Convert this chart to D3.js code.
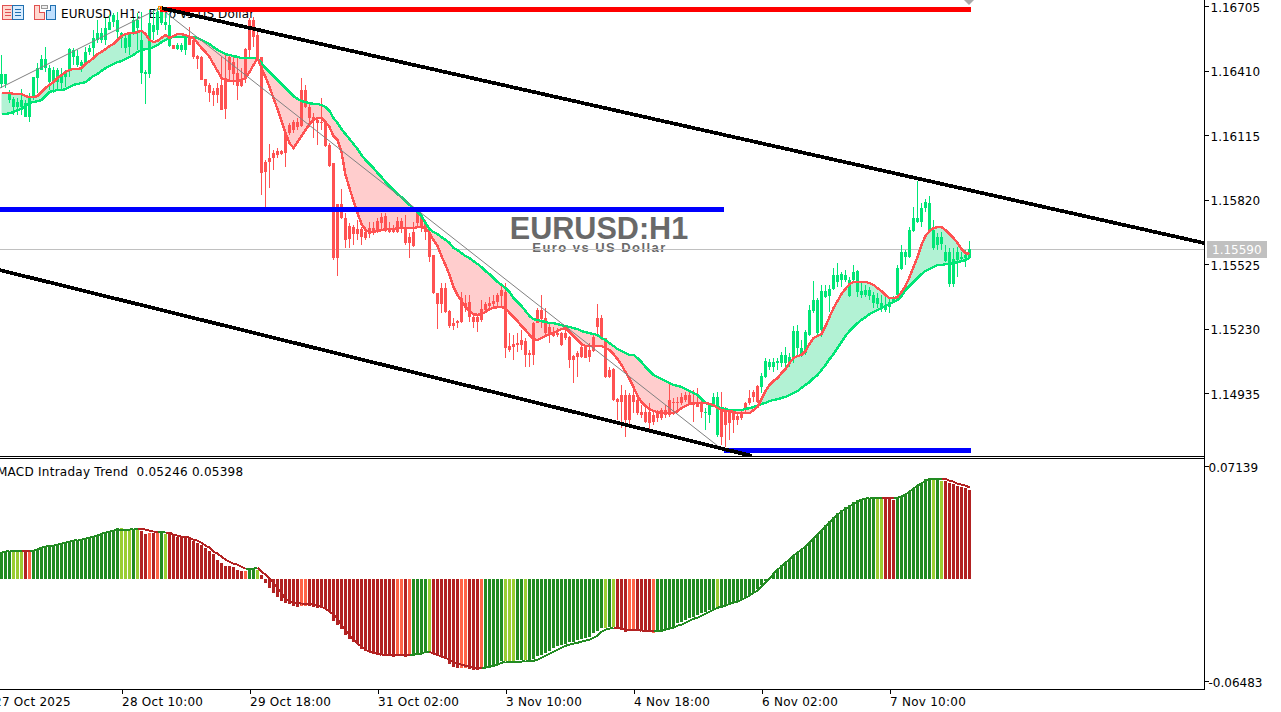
<!DOCTYPE html>
<html><head><meta charset="utf-8">
<script src="https://cdn.jsdelivr.net/npm/d3@7/dist/d3.min.js"></script>
<style>
html,body{margin:0;padding:0;background:#fff;overflow:hidden}
text{font-family:"DejaVu Sans",sans-serif;font-size:12px;fill:#000;white-space:pre}
</style></head><body><svg id="c" width="1281" height="712"></svg>
<script>
// Prices are in points: 16705 means 1.16705
const high=[16481,16394,16321,16289,16284,16325,16275,16307,16380,16444,
16481,16517,16435,16426,16421,16421,16412,16513,16513,16504,
16458,16517,16526,16595,16641,16604,16650,16664,16673,16677,
16586,16581,16586,16650,16673,16677,16412,16687,16687,16696,
16696,16673,16673,16526,16536,16536,16572,16609,16559,16481,
16476,16371,16353,16330,16353,16472,16481,16481,16481,16467,
16421,16513,16650,16654,16604,16472,16001,16074,16046,16056,
16046,16129,16170,16184,16193,16376,16344,16261,16216,16197,
16284,16184,16078,15987,15799,15868,15758,15712,15703,15726,
15694,15694,15717,15717,15735,15758,15758,15717,15703,15740,
15735,15749,15667,15717,15763,15758,15726,15680,15566,15392,
15438,15438,15314,15278,15269,15397,15383,15383,15301,15292,
15360,15351,15374,15383,15392,15429,15438,15209,15200,15209,
15223,15186,15131,15260,15324,15383,15324,15255,15237,15232,
15214,15232,15196,15109,15127,15168,15154,15163,15200,15342,
15292,15186,15054,15049,14912,14972,14949,14935,14949,14917,
14880,14880,14889,14857,14857,14866,14880,14981,14912,14917,
14935,14940,14940,14949,14958,14903,14866,14889,14935,14940,
14940,14871,14862,14848,14843,14857,14894,14949,14949,14972,
15026,15095,15091,15095,15095,15122,15145,15118,15241,15246,
15177,15223,15337,15447,15369,15429,15429,15429,15507,15529,
15488,15497,15465,15520,15497,15438,15429,15420,15397,15392,
15383,15374,15369,15379,15520,15612,15589,15694,15785,15905,
15804,15822,15836,15726,15667,15671,15612,15598,15598,15603,
15580,15589,15630];
const bodyTop=[16394,16394,16307,16280,16266,16275,16261,16289,16380,16421,
16462,16462,16421,16412,16412,16389,16403,16508,16504,16476,
16449,16495,16513,16559,16581,16581,16604,16632,16664,16641,
16581,16559,16581,16641,16641,16549,16403,16627,16618,16677,
16687,16632,16618,16526,16526,16526,16568,16568,16549,16476,
16472,16371,16344,16316,16330,16344,16376,16472,16449,16399,
16371,16508,16641,16641,16572,16472,15991,16010,16033,16042,
16042,16124,16161,16174,16174,16321,16321,16243,16197,16184,
16174,16170,16069,15987,15799,15799,15735,15699,15694,15685,
15685,15671,15689,15689,15721,15740,15744,15689,15689,15721,
15721,15689,15648,15671,15758,15749,15712,15671,15566,15392,
15415,15415,15310,15255,15264,15369,15346,15351,15282,15282,
15319,15342,15346,15356,15383,15406,15397,15150,15159,15164,
15177,15173,15118,15255,15314,15314,15278,15237,15209,15209,
15209,15209,15191,15104,15118,15145,15145,15131,15191,15278,
15278,15186,15040,15045,14907,14926,14926,14926,14926,14903,
14848,14848,14848,14834,14843,14857,14857,14903,14894,14894,
14917,14926,14926,14894,14894,14889,14848,14880,14917,14917,
14871,14857,14848,14843,14830,14848,14889,14912,14940,14967,
15013,15081,15077,15077,15081,15109,15109,15100,15218,15218,
15141,15214,15314,15360,15360,15401,15401,15411,15475,15475,
15479,15475,15452,15488,15493,15401,15406,15406,15383,15369,
15346,15337,15351,15369,15507,15580,15580,15680,15735,15735,
15781,15809,15804,15680,15648,15648,15580,15580,15548,15580,
15557,15566,15593];
const bodyBottom=[16348,16348,16275,16243,16243,16243,16197,16197,16289,16376,
16412,16421,16357,16357,16357,16353,16380,16412,16472,16435,
16431,16444,16495,16513,16549,16549,16549,16595,16632,16586,
16559,16513,16517,16586,16604,16398,16394,16394,16586,16595,
16627,16618,16522,16508,16508,16504,16504,16526,16472,16463,
16367,16339,16307,16298,16298,16229,16234,16412,16394,16339,
16339,16376,16504,16563,16472,15941,15946,15991,16010,16024,
16028,16033,16124,16138,16152,16156,16243,16193,16184,16170,
16170,16065,15973,15552,15552,15735,15635,15639,15662,15662,
15648,15644,15662,15667,15671,15712,15676,15671,15671,15671,
15689,15621,15621,15607,15712,15689,15671,15557,15392,15342,
15342,15305,15241,15241,15255,15260,15324,15282,15260,15260,
15269,15314,15333,15342,15351,15379,15141,15131,15145,15154,
15154,15109,15109,15109,15255,15273,15209,15204,15196,15200,
15154,15186,15086,15086,15100,15100,15095,15100,15127,15237,
15182,15008,15008,14903,14894,14894,14811,14811,14894,14844,
14834,14802,14798,14802,14820,14820,14834,14834,14889,14889,
14889,14903,14880,14880,14871,14848,14843,14834,14880,14743,
14734,14789,14798,14811,14811,14820,14857,14889,14917,14894,
14963,15008,15054,15054,15072,15072,15072,15072,15095,15141,
15109,15118,15200,15310,15209,15223,15374,15379,15411,15443,
15452,15452,15379,15452,15397,15383,15383,15379,15346,15342,
15324,15314,15328,15351,15383,15502,15557,15557,15676,15717,
15717,15781,15680,15598,15612,15616,15538,15433,15433,15543,
15548,15552,15552];
const low=[16330,16330,16261,16206,16206,16206,16197,16174,16275,16307,
16412,16403,16321,16307,16321,16321,16335,16380,16435,16426,
16403,16435,16481,16472,16536,16536,16526,16595,16609,16559,
16513,16490,16481,16572,16504,16348,16257,16376,16549,16572,
16618,16595,16517,16508,16504,16495,16481,16526,16463,16417,
16367,16312,16266,16248,16261,16229,16188,16367,16344,16275,
16335,16353,16467,16517,16467,15840,15781,15872,15955,16010,
16024,15969,16115,16124,16138,16152,16239,16152,16101,16069,
16138,16060,15969,15543,15470,15731,15598,15598,15612,15635,
15612,15635,15644,15657,15667,15680,15671,15667,15667,15667,
15667,15612,15552,15603,15689,15671,15635,15534,15388,15228,
15301,15301,15232,15223,15232,15255,15305,15260,15232,15214,
15260,15301,15324,15324,15324,15324,15095,15122,15086,15122,
15131,15054,15054,15063,15255,15232,15191,15163,15191,15191,
15150,15177,15049,14981,15008,15095,15095,15077,15122,15191,
15177,15003,15003,14898,14811,14775,14734,14775,14844,14834,
14820,14798,14766,14789,14802,14811,14820,14825,14834,14844,
14880,14894,14880,14802,14871,14820,14766,14798,14871,14734,
14697,14688,14720,14752,14789,14811,14848,14880,14894,14889,
14935,15003,15040,15031,15040,15054,15054,15054,15072,15100,
15100,15109,15196,15301,15200,15191,15369,15305,15406,15420,
15420,15443,15374,15443,15374,15369,15374,15360,15324,15324,
15305,15305,15301,15346,15374,15497,15520,15552,15671,15712,
15694,15763,15667,15589,15589,15589,15534,15420,15420,15465,
15543,15511,15548];
const fastMA=[16307,16307,16307,16303,16303,16303,16293,16289,16289,16293,
16312,16330,16344,16357,16376,16389,16403,16412,16417,16417,
16421,16440,16453,16467,16485,16495,16508,16522,16531,16549,
16568,16577,16581,16581,16586,16591,16577,16549,16540,16545,
16559,16572,16559,16568,16577,16577,16572,16563,16559,16536,
16513,16495,16472,16440,16408,16376,16367,16362,16362,16362,
16367,16376,16403,16435,16467,16421,16380,16335,16284,16234,
16179,16124,16078,16056,16083,16110,16138,16165,16184,16193,
16193,16174,16152,16110,16092,16037,15932,15872,15813,15758,
15708,15680,15671,15671,15676,15680,15685,15685,15685,15689,
15689,15689,15689,15689,15694,15694,15689,15667,15635,15607,
15561,15520,15475,15420,15383,15356,15328,15310,15296,15292,
15296,15305,15319,15324,15328,15328,15324,15301,15282,15264,
15241,15223,15200,15182,15177,15186,15196,15205,15209,15218,
15227,15232,15214,15196,15177,15159,15150,15150,15150,15150,
15150,15141,15131,15113,15090,15063,15031,14999,14963,14921,
14894,14876,14862,14853,14848,14843,14843,14843,14843,14853,
14866,14876,14885,14889,14889,14889,14889,14885,14880,14866,
14857,14853,14853,14848,14843,14843,14843,14843,14857,14871,
14907,14944,14972,14990,15003,15026,15045,15072,15095,15104,
15109,15127,15159,15186,15196,15205,15241,15282,15324,15356,
15388,15411,15433,15443,15443,15443,15443,15438,15429,15415,
15401,15383,15369,15369,15374,15397,15424,15465,15511,15557,
15612,15653,15676,15689,15694,15694,15680,15662,15644,15621,
15593,15575,15571];
const slowMA=[16211,16211,16215,16220,16229,16234,16248,16261,16266,16270,
16275,16293,16312,16316,16321,16321,16325,16335,16344,16348,
16353,16357,16371,16385,16394,16408,16421,16431,16440,16449,
16453,16463,16472,16481,16495,16504,16508,16508,16517,16526,
16540,16549,16559,16563,16563,16563,16563,16563,16563,16559,
16549,16540,16531,16517,16504,16495,16485,16481,16476,16472,
16467,16467,16467,16467,16467,16444,16421,16403,16385,16367,
16348,16330,16312,16293,16280,16270,16266,16261,16257,16257,
16252,16243,16225,16193,16170,16142,16119,16097,16074,16051,
16023,16001,15982,15964,15941,15923,15900,15882,15863,15845,
15831,15813,15795,15781,15763,15744,15712,15685,15671,15662,
15648,15635,15621,15598,15589,15575,15561,15552,15538,15525,
15511,15493,15479,15461,15443,15429,15415,15397,15369,15351,
15333,15310,15287,15273,15269,15264,15260,15255,15255,15250,
15246,15241,15237,15232,15227,15218,15214,15209,15205,15200,
15186,15177,15163,15150,15136,15127,15118,15109,15109,15095,
15077,15054,15035,15017,15008,14999,14990,14981,14972,14967,
14963,14953,14944,14935,14926,14907,14889,14880,14876,14871,
14866,14862,14857,14857,14857,14857,14862,14866,14871,14876,
14885,14889,14898,14903,14907,14912,14917,14926,14935,14944,
14958,14972,14985,15003,15017,15040,15063,15090,15113,15141,
15168,15196,15218,15237,15255,15269,15282,15296,15305,15314,
15324,15333,15342,15351,15360,15379,15406,15424,15443,15461,
15479,15493,15502,15511,15520,15520,15525,15525,15529,15534,
15538,15543,15552];
const redCandles=[[43,43],[47,175],[180,189]];
// MACD values in units of 0.0001
const histogram=[171,171,178,178,171,171,171,171,178,184,
197,209,216,209,222,222,228,235,241,247,
247,254,260,266,273,285,292,298,311,323,
323,317,311,311,317,304,285,292,292,292,
298,285,285,279,266,266,260,260,241,228,
216,197,178,159,120,101,82,82,76,57,
51,51,63,63,57,25,-25,-57,-89,-114,
-139,-152,-159,-171,-178,-171,-171,-171,-178,-184,
-184,-184,-209,-266,-292,-317,-355,-380,-399,-412,
-444,-456,-463,-475,-482,-482,-488,-488,-495,-488,
-488,-495,-482,-482,-475,-469,-463,-456,-475,-482,
-495,-507,-539,-558,-564,-564,-564,-571,-577,-577,
-564,-564,-564,-558,-545,-520,-520,-520,-520,-514,
-514,-514,-514,-507,-488,-482,-469,-456,-437,-425,
-418,-412,-399,-399,-387,-380,-374,-368,-342,-330,
-311,-311,-304,-304,-311,-323,-336,-323,-323,-323,
-330,-336,-336,-342,-323,-330,-323,-311,-304,-279,
-273,-260,-247,-241,-228,-216,-209,-197,-190,-184,
-171,-165,-152,-146,-139,-127,-120,-101,-82,-63,
-38,-13,6,38,63,89,108,127,152,171,
184,209,235,260,285,311,342,368,393,418,
437,456,469,488,501,507,514,514,514,507,
507,507,507,501,514,520,539,558,577,596,
609,634,640,634,634,621,621,609,602,590,
583,577,564];
const signal=[171,171,178,178,178,178,178,178,178,184,
197,203,209,209,216,222,228,235,241,247,
247,254,260,266,273,285,292,298,304,311,
311,311,311,317,317,317,311,304,298,298,
298,292,292,279,273,266,266,260,247,241,
228,209,197,171,159,139,120,108,95,89,
76,63,63,63,70,44,25,0,-25,-57,
-89,-127,-146,-152,-152,-159,-159,-159,-165,-171,
-178,-190,-209,-228,-254,-292,-323,-355,-387,-412,
-431,-450,-463,-469,-475,-482,-482,-482,-482,-482,
-482,-482,-482,-482,-475,-475,-463,-463,-475,-482,
-495,-501,-514,-526,-539,-545,-552,-558,-564,-564,
-564,-564,-558,-552,-545,-533,-526,-526,-526,-526,
-526,-520,-520,-520,-514,-501,-488,-475,-463,-450,
-437,-425,-418,-412,-406,-399,-393,-387,-374,-361,
-336,-323,-317,-311,-311,-317,-323,-323,-323,-323,
-330,-330,-330,-330,-330,-330,-323,-317,-311,-298,
-292,-279,-266,-254,-247,-235,-222,-209,-197,-184,
-178,-171,-159,-152,-146,-133,-120,-108,-89,-76,
-51,-25,0,32,57,76,101,120,146,165,
184,203,228,254,279,304,330,355,380,406,
425,444,456,475,488,501,507,514,514,514,
514,514,514,514,514,520,533,552,571,590,
602,621,634,634,634,634,634,621,615,602,
596,590,577];
const histRuns=[["g",3],["y",3],["r",1],["t",1],["g",22],["y",3],["g",1],["y",1],["r",2],["t",1],["r",1],["t",1],["g",1],["y",1],["r",19],["t",1],["g",2],["y",1],["r",10],["t",2],["r",22],["t",2],["r",1],["t",1],["g",4],["y",1],["r",7],["t",2],["r",3],["t",1],["g",5],["y",3],["g",2],["y",1],["g",19],["y",1],["g",1],["y",1],["r",3],["t",2],["r",4],["t",1],["g",15],["y",1],["g",39],["y",2],["r",3],["g",9],["y",1],["g",1],["y",1],["r",7]];
const priceTicks=[16705,16410,16115,15820,15525,15230,14935];
const macdTicks=[713.9,-648.3];
const timeTickBars=[-2,30,62,94,126,158,190,222];
const timeTickLabels=["27 Oct 2025","28 Oct 10:00","29 Oct 18:00","31 Oct 02:00","3 Nov 10:00","4 Nov 18:00","6 Nov 02:00","7 Nov 10:00"];
const lastPrice=15590;
const upperChannel=[[40,16696],[300.75,15621]];
const lowerChannel=[[-0.25,15497],[187.75,14647]];
const zigzag=[[-0.25,16330],[39.75,16696],[180.5,14674]];
const levels=[{p:16689,a:39.75,b:242.5,c:"#ff0000"},{p:15772,a:-0.25,b:180.75,c:"#0000ff"},{p:14672,a:180.75,b:242.5,c:"#0000ff"}];

const svg=d3.select("#c");
const W=1204,mainH=456,subTop=459,subBot=689;
const x=d3.scaleLinear().domain([0,242]).range([1,969]);
const y=d3.scaleLinear().domain([16705,14935]).range([6,393]);
const ym=d3.scaleLinear().domain([713.9,-648.3]).range([466,681]);
const bars=d3.range(high.length);
const histColor=histRuns.flatMap(([k,n])=>d3.range(n).map(()=>k));
const pal={g:"#228b22",y:"#9acd32",r:"#b22222",t:"#ff6347"};
const lineCol={g:"#228b22",y:"#228b22",r:"#b22222",t:"#b22222"};
const GREEN="#00e676",RED="#ff5252";
const isRed=i=>redCandles.some(([a,b])=>i>=a&&i<=b);
const defs=svg.append("defs");
defs.append("clipPath").attr("id","m").append("rect").attr("width",W).attr("height",mainH);
defs.append("clipPath").attr("id","s").append("rect").attr("x",-5).attr("y",subTop).attr("width",W+5).attr("height",subBot-subTop);

svg.append("rect").attr("width",1281).attr("height",712).attr("fill","#fff");
const main=svg.append("g").attr("clip-path","url(#m)");
// watermark
main.append("text").attr("x",599).attr("y",239).attr("text-anchor","middle").style("font-family",'"Liberation Sans"').style("font-size","30.6px").style("font-weight","bold").style("fill","#696969").text("EURUSD:H1");
main.append("text").attr("x",599.5).attr("y",252).attr("text-anchor","middle").style("font-family",'"Liberation Sans"').style("font-size","13px").style("font-weight","bold").style("letter-spacing","1.45px").style("fill","#696969").text("Euro vs US Dollar");
// header
main.append("text").attr("x",61).attr("y",18).style("letter-spacing","0.1px").text("EURUSD, H1:  Euro vs US Dollar");
// last price line
const lastY=Math.floor(y(lastPrice));
main.append("line").attr("x1",0).attr("x2",W).attr("y1",lastY+.5).attr("y2",lastY+.5).attr("stroke","#c0c0c0");
// fill
const cx=i=>x(i)+.5;
main.append("path").attr("fill","#b2f2d4").attr("d",d3.area().x(cx).y0(i=>y(slowMA[i])).y1(i=>y(Math.max(fastMA[i],slowMA[i])))(bars));
main.append("path").attr("fill","#ffcdcd").attr("d",d3.area().x(cx).y0(i=>y(slowMA[i])).y1(i=>y(Math.min(fastMA[i],slowMA[i])))(bars));
// candles
const c=main.append("g").attr("shape-rendering","crispEdges");
c.selectAll(".w").data(bars).join("rect").attr("x",i=>x(i)).attr("width",1).attr("y",i=>y(high[i])).attr("height",i=>y(low[i])-y(high[i])).attr("fill",i=>isRed(i)?RED:GREEN);
c.selectAll(".b").data(bars).join("rect").attr("x",i=>x(i)-1).attr("width",3).attr("y",i=>y(bodyTop[i])).attr("height",i=>Math.max(1,y(bodyBottom[i])-y(bodyTop[i]))).attr("fill",i=>isRed(i)?RED:GREEN);
// MAs
const ln=arr=>d3.line().x(cx).y(i=>y(arr[i]))(bars);
main.append("path").attr("fill","none").attr("stroke",GREEN).attr("stroke-width",2.4).attr("shape-rendering","crispEdges").attr("d",ln(slowMA));
main.append("path").attr("fill","none").attr("stroke",RED).attr("stroke-width",2.4).attr("shape-rendering","crispEdges").attr("d",ln(fastMA));
// thin trend
main.append("path").attr("fill","none").attr("stroke","#808080").attr("stroke-width",1).attr("d",d3.line().x(d=>x(d[0])).y(d=>y(d[1]))(zigzag));
// levels
levels.forEach(l=>main.append("line").attr("x1",x(l.a)).attr("x2",x(l.b)).attr("y1",y(l.p)).attr("y2",y(l.p)).attr("stroke",l.c).attr("stroke-width",5).attr("shape-rendering","crispEdges"));
// channel
[upperChannel,lowerChannel].forEach(ch=>main.append("path").attr("fill","none").attr("stroke","#000").attr("stroke-width",3.7).attr("shape-rendering","crispEdges").attr("d",d3.line().x(d=>x(d[0])).y(d=>y(d[1]))(ch)));
// anchors
main.append("rect").attr("x",x(39.75)-1.5).attr("y",y(16696)-1.5).attr("width",3).attr("height",3).attr("fill","none").attr("stroke","#ff8c00");
main.append("path").attr("d",d3.symbol(d3.symbolSquare,50)()).attr("transform",`translate(${x(242)},${y(16732)}) rotate(45)`).attr("fill","#a9a9a9");
// icons
const ic=svg.append("g").attr("shape-rendering","crispEdges");
ic.append("rect").attr("x",2.5).attr("y",5.5).attr("width",10).attr("height",14).attr("fill","#ffd8d0").attr("stroke","#e05050");
ic.append("rect").attr("x",12.5).attr("y",5.5).attr("width",11).attr("height",14).attr("fill","#d8ecff").attr("stroke","#2070b0");
[9,12,15].forEach(v=>{ic.append("rect").attr("x",5).attr("y",v).attr("width",6).attr("height",1).attr("fill","#e05050");ic.append("rect").attr("x",15).attr("y",v).attr("width",6).attr("height",1).attr("fill","#2070b0");});
ic.append("path").attr("d","M34.5 5.5H39.5V12.5H44.5V19.5H34.5Z").attr("fill","#ffd8d0").attr("stroke","#e05050");
ic.append("path").attr("d","M46.5 10.5H50.5V5.5H55.5V19.5H46.5Z").attr("fill","#c0e0ff").attr("stroke","#2070b0");
ic.append("rect").attr("x",41.5).attr("y",5.5).attr("width",6).attr("height",3).attr("fill","#eee").attr("stroke","#999");
// subwindow
const sub=svg.append("g").attr("clip-path","url(#s)");
sub.append("g").attr("shape-rendering","crispEdges").selectAll("rect").data(bars).join("rect").attr("x",i=>x(i)-1).attr("width",3)
 .attr("y",i=>Math.min(ym(0),ym(histogram[i]))).attr("height",i=>Math.max(1,Math.abs(ym(histogram[i])-ym(0)))).attr("fill",i=>pal[histColor[i]]);
sub.append("g").selectAll("line").data(bars.slice(1)).join("line").attr("x1",i=>cx(i-1)).attr("x2",cx).attr("y1",i=>ym(signal[i-1])).attr("y2",i=>ym(signal[i])).attr("stroke",i=>lineCol[histColor[i]]).attr("stroke-width",2).attr("shape-rendering","crispEdges");
sub.append("text").attr("x",-3).attr("y",476).style("letter-spacing","0.25px").text("MACD Intraday Trend  0.05246 0.05398");
// axes
const frame=svg.append("g").attr("shape-rendering","crispEdges");
frame.append("rect").attr("x",0).attr("y",456).attr("width",W).attr("height",1);
frame.append("rect").attr("x",0).attr("y",458).attr("width",W).attr("height",1);
const ax=d3.axisRight(y).tickValues(priceTicks).tickSize(4).tickPadding(2).tickFormat(v=>((v+100000)/1e5).toFixed(5));
const ga=svg.append("g").attr("transform",`translate(${W+.5},0)`).call(ax);
const axm=d3.axisRight(ym).tickValues(macdTicks).tickSize(4).tickPadding(0).tickFormat(v=>(v/1e4).toFixed(5));
const gm=svg.append("g").attr("transform",`translate(${W+.5},0)`).call(axm);
[ga,gm].forEach(g=>{g.select(".domain").remove();g.selectAll("line").attr("stroke","#000").attr("shape-rendering","crispEdges");g.selectAll("text").attr("fill","#000").attr("dy","0.42em").style("font-family",'"DejaVu Sans"').style("font-size","12px");});
frame.append("rect").attr("x",W).attr("y",0).attr("width",1).attr("height",689);
frame.append("rect").attr("x",0).attr("y",689).attr("width",W+1).attr("height",1);
const at=d3.axisBottom(x).tickValues(timeTickBars).tickSize(4).tickFormat((d,i)=>timeTickLabels[i]);
const gt=svg.append("g").attr("transform","translate(0.5,689.5)").call(at);
gt.select(".domain").remove();
gt.selectAll("line").attr("stroke","#000").attr("shape-rendering","crispEdges");
gt.selectAll("text").attr("text-anchor","start").attr("fill","#000").attr("y",8).style("letter-spacing","0.25px").style("font-family",'"DejaVu Sans"').style("font-size","12px");
// last price label
const lab=svg.append("g");
lab.append("rect").attr("x",W+3).attr("y",lastY-8).attr("width",60).attr("height",17).attr("fill","#c0c0c0");
lab.append("text").attr("x",W+8).attr("y",lastY+5).style("fill","#fff").text(((lastPrice+100000)/1e5).toFixed(5));
</script></body></html>
